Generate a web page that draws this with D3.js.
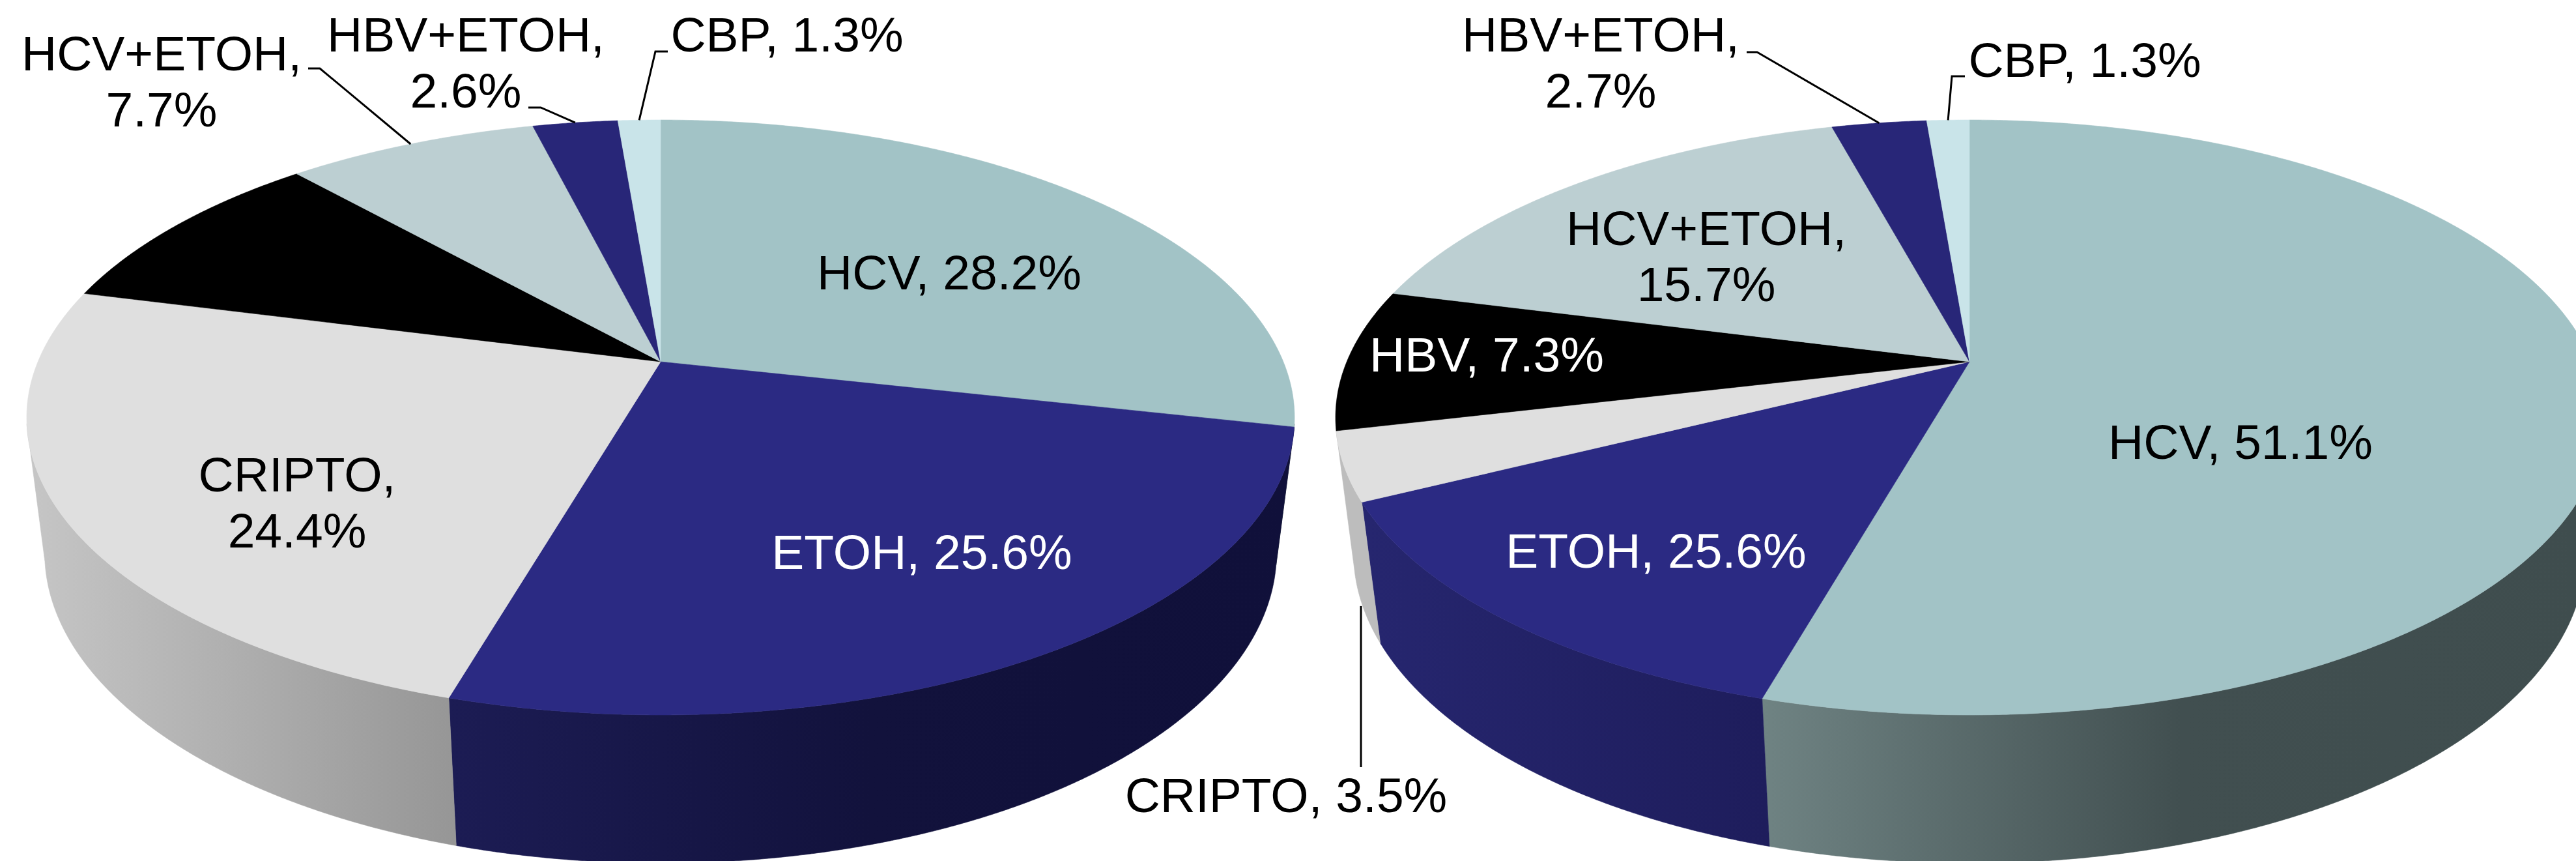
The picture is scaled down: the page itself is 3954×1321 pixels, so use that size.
<!DOCTYPE html>
<html>
<head>
<meta charset="utf-8">
<script src="https://cdn.jsdelivr.net/npm/d3@7"></script>
<style>
  html, body { margin: 0; padding: 0; background: #fff; overflow: hidden; }
  svg { display: block; }
</style>
</head>
<body>
<svg id="chart"></svg>
<script>
// Slice order, clockwise from 12 o'clock
const categories = ["HCV", "ETOH", "CRIPTO", "HBV", "HCV+ETOH", "HBV+ETOH", "CBP"];

// Percentages as printed on the labels (the black slice on the left has no label)
const leftPrinted = [28.2, 25.6, 24.4, null, 7.7, 2.6, 1.3];
const rightPrinted = [51.1, 25.6, 3.5, 7.3, 15.7, 2.7, 1.3];

const leftShares = [28.5, 26.0, 24.5, 9.4, 7.7, 2.6, 1.3];
const rightShares = [54.4, 13.2, 3.7, 7.7, 16.8, 2.9, 1.3];

const topColors = ["#a2c3c6", "#2b2a83", "#dfdfdf", "#000000", "#bccfd2", "#282678", "#c9e4e9"];
const leftWalls = [["#404e4f"], ["#1c1c54", "#12123c", "#10103a"], ["#c6c6c6", "#969696"]];
const rightWalls = [["#6f8383", "#414f50", "#3f4d4e"], ["#26266f", "#1e1d5c"], ["#bdbdbd", "#bdbdbd"]];

const width = 3954;
const height = 1321;

const svg = d3.select("#chart")
    .attr("width", width)
    .attr("height", height)
    .attr("viewBox", [0, 0, width, height])
    .style("font-family", "'Liberation Sans', Arial, sans-serif");

const defs = svg.append("defs");

// Perspective circle: top rim and the rim at the foot of the wall
const topRim = { a: 336.5, b: 555, c: -0.1873, r: 955.8 };
const footRim = { a: 324, b: 762, c: -0.18, r: 930 };

function project(rim, cx, t) {
    const u = Math.sin(t), v = -Math.cos(t);
    const w = 1 + rim.c * v;
    return [cx + rim.r * u / w, (rim.a * v + rim.b) / w];
}

function arcPoints(rim, cx, t0, t1) {
    const n = Math.max(2, Math.ceil((t1 - t0) / 0.005));
    const angle = d3.scaleLinear().domain([0, n]).range([t0, t1]);
    return d3.range(n + 1).map(i => project(rim, cx, angle(i)));
}

const line = d3.line();
const pie = d3.pie().sort(null).value(d => d);

// Only this part of the wall faces the viewer
const wallStart = 102 * Math.PI / 180;
const wallEnd = 258 * Math.PI / 180;

function drawPie(id, cx, shares, walls) {
    const slices = pie(shares);
    const g = svg.append("g").attr("class", id);

    // Walls
    slices.forEach((s, i) => {
        const t0 = Math.max(s.startAngle, wallStart);
        const t1 = Math.min(s.endAngle, wallEnd);
        if (t1 <= t0 || !walls[i]) return;
        const upper = arcPoints(topRim, cx, t0, t1);
        const lower = arcPoints(footRim, cx, t0, t1);
        const [x0, x1] = d3.extent(upper.concat(lower), d => d[0]);
        const flip = upper[0][0] > upper[upper.length - 1][0];
        const gid = `${id}-wall-${i}`;
        const stops = walls[i];
        const offset = d3.scaleLinear().domain([0, Math.max(1, stops.length - 1)]).range([0, 1]);
        defs.append("linearGradient")
            .attr("id", gid)
            .attr("gradientUnits", "userSpaceOnUse")
            .attr("x1", x0).attr("x2", x1).attr("y1", 0).attr("y2", 0)
            .selectAll("stop")
            .data(flip ? stops : stops.slice().reverse())
            .join("stop")
            .attr("offset", (d, j) => offset(j))
            .attr("stop-color", d => d);
        g.append("path")
            .attr("d", line(upper.concat(lower.reverse())) + "Z")
            .attr("fill", `url(#${gid})`)
            .attr("stroke", `url(#${gid})`)
            .attr("stroke-width", 0.6);
    });

    // Top face
    g.selectAll("path.face")
        .data(slices)
        .join("path")
        .attr("class", "face")
        .attr("d", s => line([[cx, topRim.b], ...arcPoints(topRim, cx, s.startAngle, s.endAngle)]) + "Z")
        .attr("fill", (s, i) => topColors[i])
        .attr("stroke", (s, i) => topColors[i])
        .attr("stroke-width", 0.6);

    return slices;
}

const leftCx = 1014;
const rightCx = 3023;
const leftSlices = drawPie("left", leftCx, leftShares, leftWalls);
const rightSlices = drawPie("right", rightCx, rightShares, rightWalls);

// Label placement: slice index, anchor x, first baseline, break after the comma
const leftLayout = [
    { i: 0, x: 1457, y: 444 },
    { i: 1, x: 1415, y: 873, fill: "#fff" },
    { i: 2, x: 456, y: 754, wrap: true },
    { i: 4, x: 248, y: 108, wrap: true, elbow: [[473, 105], [491, 105]] },
    { i: 5, x: 715, y: 79, wrap: true, elbow: [[811, 165], [830, 165]] },
    { i: 6, x: 1208, y: 79, elbow: [[1025, 79], [1006, 79]] }
];
const rightLayout = [
    { i: 0, x: 3439, y: 704 },
    { i: 1, x: 2542, y: 871, fill: "#fff" },
    { i: 2, x: 1974, y: 1246, foot: [[2089, 1177]] },
    { i: 3, x: 2282, y: 570, fill: "#fff" },
    { i: 4, x: 2619, y: 376, wrap: true },
    { i: 5, x: 2457, y: 79, wrap: true, elbow: [[2681, 80], [2697, 80]] },
    { i: 6, x: 3200, y: 118, elbow: [[3016, 117], [2996, 117]] }
];

function drawLabels(printed, slices, cx, layout) {
    const g = svg.append("g");
    layout.forEach(d => {
        const name = categories[d.i] + ",";
        const pct = `${printed[d.i]}%`;
        const lines = d.wrap ? [name, pct] : [`${name} ${pct}`];
        g.selectAll(null)
            .data(lines)
            .join("text")
            .attr("x", d.x)
            .attr("y", (t, j) => d.y + j * 86)
            .attr("text-anchor", "middle")
            .attr("font-size", 75)
            .attr("fill", d.fill || "#000")
            .text(t => t);

        // Leader lines end at the middle of their slice
        const mid = (slices[d.i].startAngle + slices[d.i].endAngle) / 2;
        if (d.elbow) {
            g.append("path")
                .attr("d", line([...d.elbow, project(topRim, cx, mid)]))
                .attr("fill", "none").attr("stroke", "#000").attr("stroke-width", 3);
        }
        if (d.foot) {
            const end = project(footRim, cx, mid);
            g.append("path")
                .attr("d", line([...d.foot, [d.foot[0][0], end[1]]]))
                .attr("fill", "none").attr("stroke", "#000").attr("stroke-width", 3);
        }
    });
}

drawLabels(leftPrinted, leftSlices, leftCx, leftLayout);
drawLabels(rightPrinted, rightSlices, rightCx, rightLayout);
</script>
</body>
</html>
